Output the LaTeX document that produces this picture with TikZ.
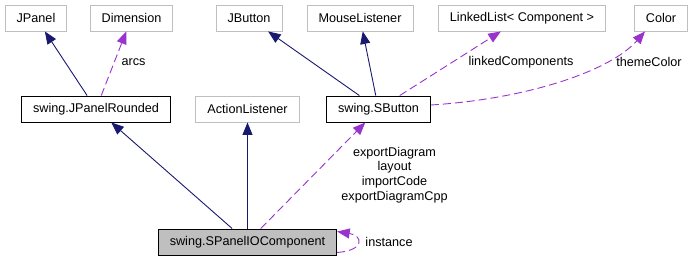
\documentclass[tikz,border=0pt]{standalone}
\usepackage{fontspec}
\setmainfont{Liberation Sans}
\usepackage{xcolor}
\usetikzlibrary{arrows.meta}

\definecolor{inheritblue}{HTML}{191970}
\definecolor{usepurple}{HTML}{9A32CD}
\definecolor{extgray}{HTML}{BFBFBF}

\tikzset{
  cls/.style={draw=black, line width=0.9bp, minimum height=26bp, inner xsep=11.5bp, inner ysep=0pt,
    font=\fontsize{12.7}{14.7}\selectfont},
  extcls/.style={cls, draw=extgray},
  curcls/.style={cls, fill=extgray},
  inherits/.style={draw=inheritblue, line width=0.9bp, -{Triangle[length=12.5bp,width=10bp]}},
  uses/.style={draw=usepurple, line width=0.9bp, dash pattern=on 8bp off 4bp,
    -{Triangle[length=12.5bp,width=10bp]}},
  lbl/.style={inner sep=0pt, align=center, font=\fontsize{12.7}{14.7}\selectfont}
}

\begin{document}
\begin{tikzpicture}[x=1bp, y=-1bp]
    \useasboundingbox (0,0) rectangle (692,261);

    % top row
    \node[extcls] (jpanel) at (36,18) {JPanel};
    \node[extcls] (dimension) at (131.5,18) {Dimension};
    \node[extcls] (jbutton) at (249,18) {JButton};
    \node[extcls] (mouselistener) at (360,18) {MouseListener};
    \node[extcls] (linkedlist) at (522,18) {LinkedList< Component >};
    \node[extcls] (color) at (661,18) {Color};

    % middle row
    \node[cls] (rounded) at (96,109) {swing.JPanelRounded};
    \node[extcls] (actionlistener) at (247.5,109) {ActionListener};
    \node[cls] (sbutton) at (378.5,109) {swing.SButton};

    % bottom
    \node[curcls] (iocomp) at (247.5,242) {swing.SPanelIOComponent};

    \draw[inherits] (rounded) -- (jpanel);
    \draw[uses] (rounded) -- (dimension);
    \node[lbl] (arcs) at (133.5,62) {arcs};

    \draw[inherits] (sbutton) -- (jbutton);
    \draw[inherits] (sbutton) -- (mouselistener);
    \draw[uses] (sbutton) -- (linkedlist);
    \node[lbl] (linked) at (521,62) {linkedComponents};
    \draw[uses] ([yshift=4bp]sbutton.east) .. controls +(95,-6) and +(-35,40) .. (color.220);
    \node[lbl] (theme) at (649,62) {themeColor};

    \draw[inherits] (iocomp) -- (rounded);
    \draw[inherits] (iocomp) -- (actionlistener);
    \draw[uses] (iocomp) -- (sbutton);
    \node[lbl] (members) at (394.5,175) {exportDiagram\\layout\\importCode\\exportDiagramCpp};

    \draw[uses] ([yshift=3bp]iocomp.south east) .. controls +(28,-2) and +(26,4) .. ([yshift=-3bp]iocomp.north east);
    \node[lbl] (instance) at (389,242) {instance};
\end{tikzpicture}
\end{document}
